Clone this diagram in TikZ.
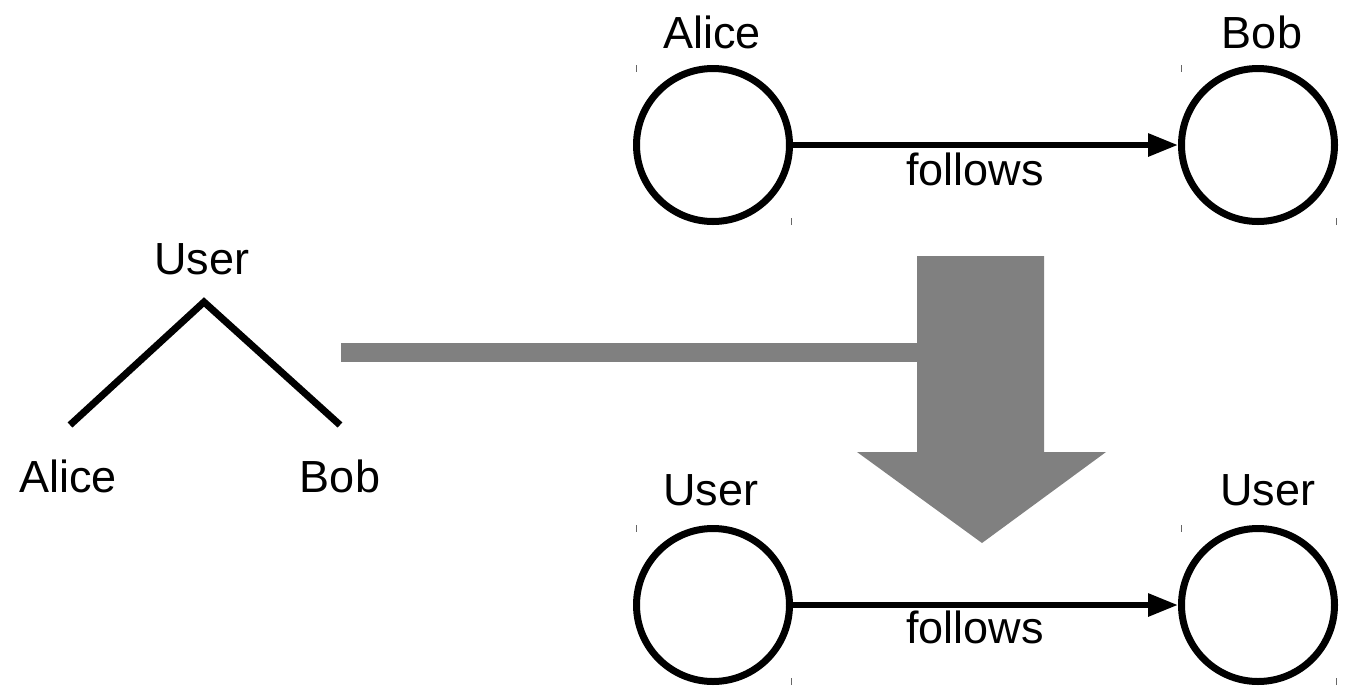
\documentclass[tikz,border=0pt]{standalone}
\usepackage{fontspec}
\setmainfont{Liberation Sans}
\usetikzlibrary{arrows.meta}
\begin{document}
\begin{tikzpicture}[x=1pt,y=-1pt,
  lbl/.style={inner sep=0pt, anchor=base, font=\fontsize{45}{50}\selectfont},
  ent/.style={draw, circle, line width=7pt, minimum size=153pt, inner sep=0pt},
  rel/.style={line width=6pt, -{Triangle[length=30pt,width=22pt]}},
  tick/.style={line width=1pt, black!60},
  treeline/.style={line width=7pt},
  bigarrow/.style={fill=black!50, draw=none}]
\useasboundingbox (0,0) rectangle (1345,689);
% top graph
\node[ent] (a1) at (713,145) {};
\node[ent] (b1) at (1258,145) {};
\draw[rel] (a1) -- (b1);
\node[lbl] (a1l) at (712,48) {Alice};
\node[lbl] (b1l) at (1262,48) {Bob};
\node[lbl] (f1) at (975,185) {follows};
% bottom graph
\node[ent] (a2) at (713,605) {};
\node[ent] (b2) at (1258,605) {};
\draw[rel] (a2) -- (b2);
\node[lbl] (a2l) at (711,505) {User};
\node[lbl] (b2l) at (1268,505) {User};
\node[lbl] (f2) at (975,643) {follows};
% ticks
\foreach \n in {a1,b1,a2,b2}{
  \draw[tick] ([xshift=3pt]\n.west |- \n.north) -- ++(0,7);
  \draw[tick] ([xshift=-2pt]\n.east |- \n.south) -- ++(0,-7);
}
% tree
\node[lbl] (tu) at (202,274) {User};
\node[lbl] (ta) at (68,492) {Alice};
\node[lbl] (tb) at (340,492) {Bob};
\coordinate (apex) at (204,302);
\coordinate (ea) at (70,425);
\coordinate (eb) at (340,425);
\draw[treeline] (ea) -- (apex) -- (eb);
% gray shapes
\fill[black!50] (341,343) rectangle (918,362);
\fill[black!50] (917,256) -- (1044,256) -- (1044,452) -- (1106,452) -- (982,543) -- (857,452) -- (917,452) -- cycle;
\end{tikzpicture}
\end{document}
